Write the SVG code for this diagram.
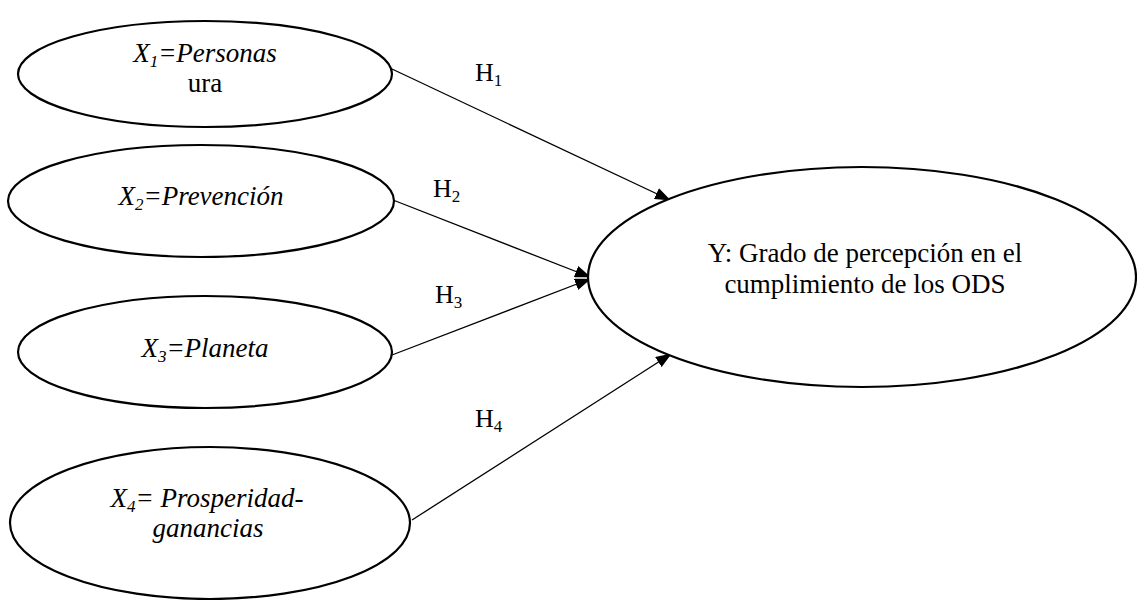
<svg xmlns="http://www.w3.org/2000/svg" width="1137" height="600" viewBox="0 0 1137 600">
<style>
.node ellipse{fill:#fff;stroke:#000;stroke-width:2.2}
text{font-family:"Liberation Serif","Times New Roman",serif;font-size:27px;fill:#000;text-anchor:middle}
.it{font-style:italic}
.sub{font-size:17px}
.lbl{text-anchor:start;font-size:26px}
.conn line{stroke:#000;stroke-width:1.3}
</style>
<defs>
<marker id="arr" markerUnits="userSpaceOnUse" markerWidth="16" markerHeight="12" refX="15" refY="6" orient="auto">
<path d="M0,0 L16,6 L0,12 z" fill="#000"/>
</marker>
</defs>
<g class="conn">
<line x1="392" y1="69" x2="670" y2="200" marker-end="url(#arr)"/>
<line x1="393" y1="200" x2="590" y2="277" marker-end="url(#arr)"/>
<line x1="392" y1="355" x2="590" y2="279" marker-end="url(#arr)"/>
<line x1="412" y1="520" x2="671" y2="354" marker-end="url(#arr)"/>
<text class="lbl" x="475" y="81">H<tspan class="sub" dy="5">1</tspan></text>
<text class="lbl" x="433" y="197">H<tspan class="sub" dy="5">2</tspan></text>
<text class="lbl" x="435" y="303">H<tspan class="sub" dy="5">3</tspan></text>
<text class="lbl" x="475" y="427">H<tspan class="sub" dy="5">4</tspan></text>
</g>
<g id="x1" class="node">
<ellipse cx="205" cy="74" rx="187" ry="53"/>
<text class="it" x="205" y="62">X<tspan class="sub" dy="5">1</tspan><tspan dy="-5">=Personas</tspan></text>
<text x="205" y="92">ura</text>
</g>
<g id="x2" class="node">
<ellipse cx="201" cy="201" rx="193" ry="56"/>
<text class="it" x="201" y="205">X<tspan class="sub" dy="5">2</tspan><tspan dy="-5">=Prevención</tspan></text>
</g>
<g id="x3" class="node">
<ellipse cx="205" cy="352" rx="187" ry="56"/>
<text class="it" x="205" y="357">X<tspan class="sub" dy="5">3</tspan><tspan dy="-5">=Planeta</tspan></text>
</g>
<g id="x4" class="node">
<ellipse cx="210" cy="523" rx="200" ry="76"/>
<text class="it" x="207" y="507">X<tspan class="sub" dy="5">4</tspan><tspan dy="-5">= Prosperidad-</tspan></text>
<text class="it" x="208" y="537">ganancias</text>
</g>
<g id="y" class="node">
<ellipse cx="862" cy="277" rx="274" ry="110"/>
<text x="865" y="262">Y: Grado de percepción en el</text>
<text x="865" y="293">cumplimiento de los ODS</text>
</g>
</svg>
